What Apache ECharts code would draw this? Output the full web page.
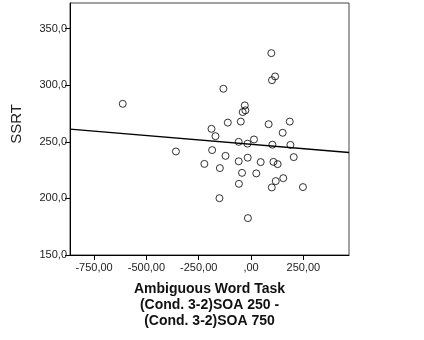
<!DOCTYPE html>
<html>
<head>
<meta charset="utf-8">
<script src="https://cdn.jsdelivr.net/npm/echarts@6/dist/echarts.min.js"></script>
<style>html,body{margin:0;padding:0;background:#fff}#c{width:424px;height:340px}</style>
</head>
<body>
<div id="c"></div>
<script>
// Data
const xValues = [-613, -359, -223, -189, -170, -186, -149, -151, -132, -111,
  -122, -59, -49, -59, -43, -58, -30, -40, -27, -17,
  -16, -15, 14, 25, 46, 84, 97, 115, 100, 102,
  107, 127, 118, 154, 99, 151, 185, 188, 204, 248];
const yValues = [283.6, 241.5, 230.5, 261.5, 255.0, 242.7, 226.8, 200.2, 296.9, 267.0,
  237.6, 250.0, 267.9, 232.8, 222.6, 212.9, 282.2, 276.3, 277.8, 248.4,
  236.0, 182.6, 252.1, 222.1, 232.1, 265.6, 328.4, 307.8, 304.5, 247.5,
  232.3, 230.3, 215.3, 217.9, 209.7, 258.0, 267.9, 247.3, 236.5, 210.0];
const fitX = [-865, 468];
const fitY = [261.2, 240.6];
const xTicks = [-750, -500, -250, 0, 250];
const yTicks = [150, 200, 250, 300, 350];
const xRange = [-865, 468];
const yRange = [150, 372.7];
const xTitle = 'Ambiguous Word Task\n(Cond. 3-2)SOA 250 -\n(Cond. 3-2)SOA 750';
const yTitle = 'SSRT';

function fmtX(v) {
  let s = Math.abs(v).toFixed(2).replace('.', ',');
  if (s.startsWith('0,')) s = s.slice(1);
  return (v < 0 ? '-' : '') + s;
}
function fmtY(v) { return v.toFixed(1).replace('.', ','); }

const chart = echarts.init(document.getElementById('c'), null, {renderer: 'canvas'});
chart.setOption({
  animation: false,
  backgroundColor: '#fff',
  grid: {left: 70, right: 75, top: 3, bottom: 85, show: true, borderColor: '#444', borderWidth: 1},
  xAxis: {
    type: 'value', min: xRange[0], max: xRange[1],
    splitLine: {show: false},
    axisLine: {show: true, onZero: false, lineStyle: {color: '#000', width: 1}},
    axisTick: {show: true, length: 5, customValues: xTicks, lineStyle: {color: '#000'}},
    axisLabel: {customValues: xTicks, formatter: fmtX, color: '#222', fontFamily: 'Liberation Sans', fontSize: 11, margin: 7},
    name: xTitle, nameLocation: 'middle', nameGap: 26,
    nameTextStyle: {fontFamily: 'Liberation Sans', fontWeight: 'bold', fontSize: 14, color: '#111', lineHeight: 16, verticalAlign: 'top'}
  },
  yAxis: {
    type: 'value', min: yRange[0], max: yRange[1],
    splitLine: {show: false},
    axisLine: {show: true, onZero: false, lineStyle: {color: '#000', width: 1}},
    axisTick: {show: true, length: 5, customValues: yTicks, lineStyle: {color: '#000'}},
    axisLabel: {customValues: yTicks, formatter: fmtY, color: '#222', fontFamily: 'Liberation Sans', fontSize: 11, margin: 3},
    name: yTitle, nameLocation: 'middle', nameGap: 46,
    nameTextStyle: {fontFamily: 'Liberation Sans', fontSize: 15, color: '#222', padding: [0, 0, 0, 10]}
  },
  series: [
    {
      type: 'line', data: fitX.map((x, i) => [x, fitY[i]]),
      symbol: 'none', lineStyle: {color: '#000', width: 1.3}, silent: true, z: 1
    },
    {
      type: 'scatter', data: xValues.map((x, i) => [x, yValues[i]]),
      symbol: 'circle', symbolSize: 7,
      itemStyle: {color: 'rgba(255,255,255,0)', borderColor: '#000', borderWidth: 1}, z: 2
    }
  ]
});
</script>
</body>
</html>
